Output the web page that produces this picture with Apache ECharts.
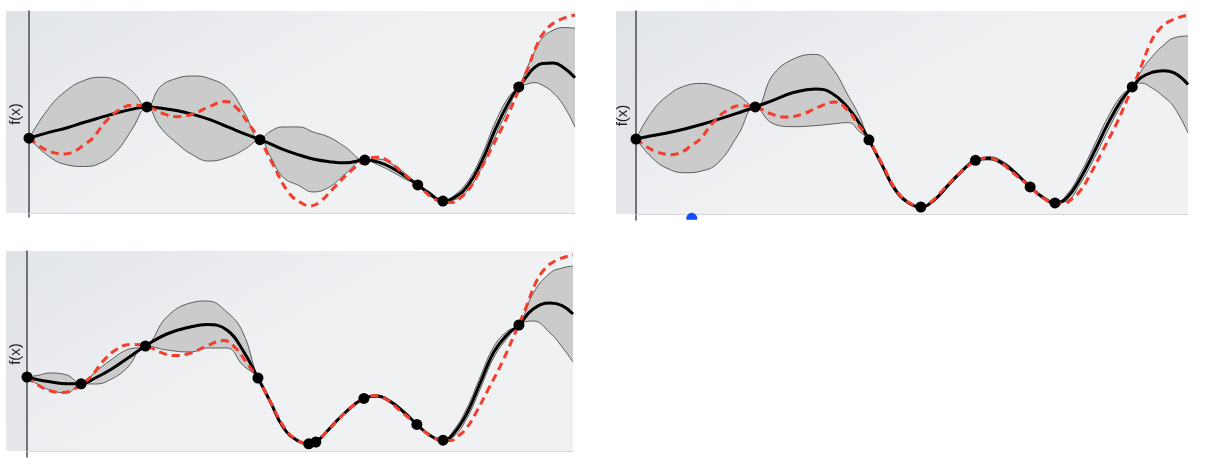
<!DOCTYPE html>
<html><head><meta charset="utf-8">
<script src="https://cdn.jsdelivr.net/npm/echarts@6/dist/echarts.min.js"></script>
<style>html,body{margin:0;padding:0;background:#fff}#c{width:1205px;height:475px}</style>
</head><body><div id="c"></div>
<script>
// ---- True objective function (red dashed), shared by all panels ----
const trueX = [0, 2, 4, 6.5, 8.5, 10, 11.6, 13.9, 16.5, 19, 21.6, 24.5, 27, 30, 33, 36, 38.2, 40, 42.2, 44.5, 47.3, 49.5, 51.6, 53.5, 55.6, 58.7, 61.6, 63.8, 65.9, 68.3, 71.4, 73.7, 75.9, 77.5, 79, 80.5, 82, 84.6, 87.1, 89.5, 90, 91.5, 93, 94.5, 96.7, 100];
const trueY = [37, 33, 30.3, 29.2, 30.8, 33.7, 36.8, 44.8, 51, 53.3, 52.7, 49.3, 47.7, 49, 52.6, 55.2, 51.5, 45, 36.5, 25, 11, 5.5, 3.5, 6, 11.8, 20.2, 26.3, 27.6, 25.6, 20.2, 13.3, 7.9, 5.4, 5.2, 7.5, 11.5, 18, 31.5, 44.8, 59.6, 62.6, 72.5, 83, 90, 95, 98];

// ---- Panel 1 (top left) ----
const p1X    = [0, 3.8, 7, 10, 13, 16, 19, 21.6, 24, 27, 30, 33, 36.5, 39.5, 42.3, 44, 46.5, 49.5, 52, 55, 58, 61.5, 64, 66.5, 69, 71.2, 73.5, 75.8, 78, 80.5, 83, 85.5, 88, 89.7, 91, 92.5, 94, 96, 98, 100];
const p1Mean = [37, 40, 42.2, 44.8, 47.2, 49.5, 51.4, 52.5, 52, 50.7, 48.8, 46.3, 42.5, 39.2, 36.3, 34.5, 31.5, 28.7, 26.7, 25.4, 24.8, 26.2, 25.2, 22.3, 18, 13.9, 9.3, 5.9, 7.8, 14, 26, 42, 55.5, 62.4, 67, 71.8, 74, 74.2, 71.8, 67];
const p1Hi   = [37, 52.5, 60.9, 65.5, 67.2, 65.8, 60, 52.5, 62.4, 66.6, 67.8, 66.6, 61.5, 49.5, 36.3, 40, 42.6, 42.6, 40.1, 37.5, 32.5, 26.2, 26.7, 24.2, 19.4, 13.9, 10.3, 5.9, 9, 16.2, 29, 45.5, 58, 62.4, 70.4, 79.3, 86.5, 90.5, 91.8, 91.5];
const p1Lo   = [37, 27.7, 23.8, 23, 24.6, 30.4, 42, 52.5, 42.6, 34.7, 28.7, 25.7, 27.6, 31.5, 36.3, 29, 17.8, 13.5, 10.4, 12.8, 19.5, 26.2, 23.7, 20.4, 16.6, 13.9, 8.3, 5.9, 6.6, 11.8, 23, 38.5, 53, 62.4, 63.6, 64.5, 63.3, 59.5, 52.8, 42.5];
const p1ObsX = [0, 21.6, 42.3, 61.5, 71.2, 75.8, 89.7];
const p1ObsY = [37, 52.5, 36.3, 26.2, 13.9, 5.9, 62.4];

// ---- Panel 2 (top right) ----
const p2X    = [0, 2.8, 5.6, 9, 12, 15, 18.5, 21.6, 24.8, 28.5, 32.5, 35.5, 38.5, 40.5, 42.2, 44.5, 47, 49.5, 51.6, 54, 56.5, 59, 61.5, 64, 66.5, 69, 71.4, 73.7, 75.9, 78, 80.5, 83, 85.5, 88, 89.9, 91.5, 93.5, 95.5, 97.5, 100];
const p2Mean = [36.9, 38.5, 39.9, 42, 44.2, 46.7, 49.8, 52.7, 56, 59.8, 61.6, 59.5, 52, 44.5, 36.5, 24.5, 11.8, 5.3, 3.4, 6.8, 14, 21, 26.4, 27.4, 24.8, 19.5, 13.3, 8.2, 5.4, 7.8, 17.5, 30.5, 44.5, 56.3, 62.6, 67.2, 69.8, 70.6, 69.5, 63.8];
const p2Hi   = [36.9, 50, 58, 63.2, 64.3, 62.5, 58.5, 52.7, 68.5, 76.3, 78.6, 72, 58, 48, 36.5, 25.3, 12.8, 5.9, 3.4, 7.4, 14.9, 21.6, 26.4, 28.2, 25.8, 20.3, 13.3, 8.8, 5.4, 9.3, 20, 33.7, 47.7, 58.6, 62.6, 70.3, 77.5, 83, 86.8, 87.7];
const p2Lo   = [36.9, 28, 22.5, 20.3, 21.2, 25.5, 39, 52.7, 44.5, 43, 43.5, 44.3, 45, 40.5, 36.5, 23.7, 10.8, 4.7, 3.4, 6.2, 13.1, 20.4, 26.4, 26.6, 23.8, 18.7, 13.3, 7.6, 5.4, 6.3, 15, 27.3, 41.3, 54, 62.6, 64.5, 62, 58, 52.5, 39.9];
const p2ObsX = [0, 21.6, 42.2, 51.6, 61.5, 71.4, 75.9, 89.9];
const p2ObsY = [36.9, 52.7, 36.5, 3.4, 26.4, 13.3, 5.4, 62.6];
const nextSampleX = [10.1];
const nextSampleY = [-1.2];

// ---- Panel 3 (bottom left) ----
const p3X    = [0, 2, 4.2, 7.3, 9.9, 12.5, 15.5, 18.5, 21.7, 25.6, 29.9, 33, 36.6, 39.5, 42.3, 44.5, 47, 49.5, 51.6, 52.9, 55, 58, 61.7, 64, 66.5, 69, 71.4, 73.7, 76.2, 78, 80.5, 83, 85.5, 88, 90.1, 92.7, 95.8, 98, 100];
const p3Mean = [37, 35.6, 34.6, 33.6, 33.6, 36.5, 41, 46.5, 52.5, 58.5, 62, 63.2, 60.5, 50.5, 36.5, 25, 11.5, 5.3, 3.6, 4.5, 10, 18.5, 26.3, 27.5, 24.8, 19.5, 13.3, 8, 5.4, 8.3, 18.5, 34, 49.5, 58.3, 63, 71, 74, 72.7, 68.5];
const p3Hi   = [37, 37.8, 39, 38, 33.6, 39.5, 45.8, 50.8, 52.5, 67, 74, 75, 69.5, 59.5, 36.5, 25.5, 12, 5.7, 3.6, 4.5, 10.5, 19, 26.3, 28, 25.3, 20, 13.3, 8.5, 5.4, 9.8, 21, 37, 52.2, 60, 63, 78.8, 89, 91.5, 92.5];
const p3Lo   = [37, 33.3, 30.5, 29, 33.6, 33.5, 36, 42, 52.5, 50.5, 49.5, 51.5, 51.5, 43, 36.5, 24.5, 11, 4.9, 3.6, 4.5, 9.5, 18, 26.3, 27, 24.3, 19, 13.3, 7.5, 5.4, 6.8, 16, 31, 46.8, 56.5, 63, 65, 59, 52, 44.5];
const p3ObsX = [0, 9.9, 21.7, 42.3, 51.6, 52.9, 61.7, 71.4, 76.2, 90.1];
const p3ObsY = [37, 33.6, 52.5, 36.5, 3.6, 4.5, 26.3, 13.3, 5.4, 63];

const yName = 'f(x)';

// ---- layout (pixels) ----
const layout = [
  {left: 29,  top: 11,  width: 546, height: 206, ymin: -2, bx: 6,   by: 11,  bw: 569, bh: 202, gap: 6},
  {left: 636, top: 11,  width: 552, height: 209, ymin: -3, bx: 616, by: 11,  bw: 572, bh: 203, gap: 6},
  {left: 27,  top: 251, width: 546, height: 206, ymin: -3, bx: 6,   by: 251, bw: 567, bh: 200, gap: 4}
];
const panels = [
  {X: p1X, mean: p1Mean, hi: p1Hi, lo: p1Lo, ox: p1ObsX, oy: p1ObsY},
  {X: p2X, mean: p2Mean, hi: p2Hi, lo: p2Lo, ox: p2ObsX, oy: p2ObsY},
  {X: p3X, mean: p3Mean, hi: p3Hi, lo: p3Lo, ox: p3ObsX, oy: p3ObsY}
];

const pairs = (xs, ys) => xs.map((x, i) => [x, ys[i]]);
const grad = (L, strip) => new echarts.graphic.LinearGradient(
  L.bx, L.by, L.bx + L.bw * 0.2, L.by + L.bh,
  strip ? [{offset: 0, color: '#dfe2e6'}, {offset: 1, color: '#e8e9ec'}]
        : [{offset: 0, color: '#e3e6ea'}, {offset: 1, color: '#f0f1f3'}], true);

const grids = [], xAxes = [], yAxes = [], series = [], graphics = [];
layout.forEach((L, i) => {
  const P = panels[i];
  grids.push({left: L.left, top: L.top, width: L.width, height: L.height, containLabel: false});
  xAxes.push({type: 'value', gridIndex: i, min: 0, max: 100, z: 5,
    axisLine: {show: true, onZero: true, lineStyle: {color: '#d6d8dc', width: 1}},
    axisTick: {show: false}, axisLabel: {show: false}, splitLine: {show: false}});
  yAxes.push({type: 'value', gridIndex: i, min: L.ymin, max: 100, z: 5,
    name: yName, nameLocation: 'middle', nameRotate: 90, nameGap: L.gap,
    nameTextStyle: {fontSize: 15, color: '#1f1f1f', fontFamily: 'Liberation Sans, Arial, sans-serif'},
    axisLine: {show: true, lineStyle: {color: '#4d4d4d', width: 1.5}},
    axisTick: {show: false}, axisLabel: {show: false}, splitLine: {show: false}});
  graphics.push({type: 'rect', z: -10, silent: true, shape: {x: L.bx, y: L.by, width: L.bw, height: L.bh}, style: {fill: grad(L, false)}});
  graphics.push({type: 'rect', z: -9, silent: true, shape: {x: L.bx, y: L.by, width: L.left - L.bx, height: L.bh}, style: {fill: grad(L, true)}});
  const bgFill = grad(L, false);
  const base = {xAxisIndex: i, yAxisIndex: i, symbol: 'none', smooth: 0.45, animation: false, silent: true};
  series.push(Object.assign({type: 'line', z: 2, data: pairs(P.X, P.hi),
    lineStyle: {color: '#3c3c3c', width: 0.8}, areaStyle: {color: '#cbcbcb', opacity: 1, origin: 0}}, base));
  series.push(Object.assign({type: 'line', z: 2, data: pairs(P.X, P.lo),
    lineStyle: {color: '#3c3c3c', width: 0.8}, areaStyle: {color: bgFill, opacity: 1, origin: 0}}, base));
  series.push(Object.assign({type: 'line', z: 3, data: pairs(P.X, P.mean),
    lineStyle: {color: '#000', width: 3}}, base));
  series.push(Object.assign({type: 'line', z: 4, data: pairs(trueX, trueY),
    lineStyle: {color: '#f43d2a', width: 3, type: [8, 5]}}, base));
  series.push({type: 'scatter', xAxisIndex: i, yAxisIndex: i, z: 6, symbolSize: 11, silent: true, animation: false,
    itemStyle: {color: '#000', opacity: 1}, data: pairs(P.ox, P.oy)});
  if (i === 1) {
    series.push({type: 'scatter', xAxisIndex: i, yAxisIndex: i, z: 6, silent: true, animation: false,
      symbol: 'path://M0.42,14 A11,11 0 1,1 21.58,14 Z', symbolSize: [11, 7], clip: false,
      itemStyle: {color: '#1450ff', opacity: 1}, data: pairs(nextSampleX, nextSampleY)});
  }
});

const chart = echarts.init(document.getElementById('c'), null, {renderer: 'canvas'});
chart.setOption({
  animation: false,
  backgroundColor: '#ffffff',
  grid: grids, xAxis: xAxes, yAxis: yAxes, series: series,
  graphic: {elements: graphics}
});
</script></body></html>
